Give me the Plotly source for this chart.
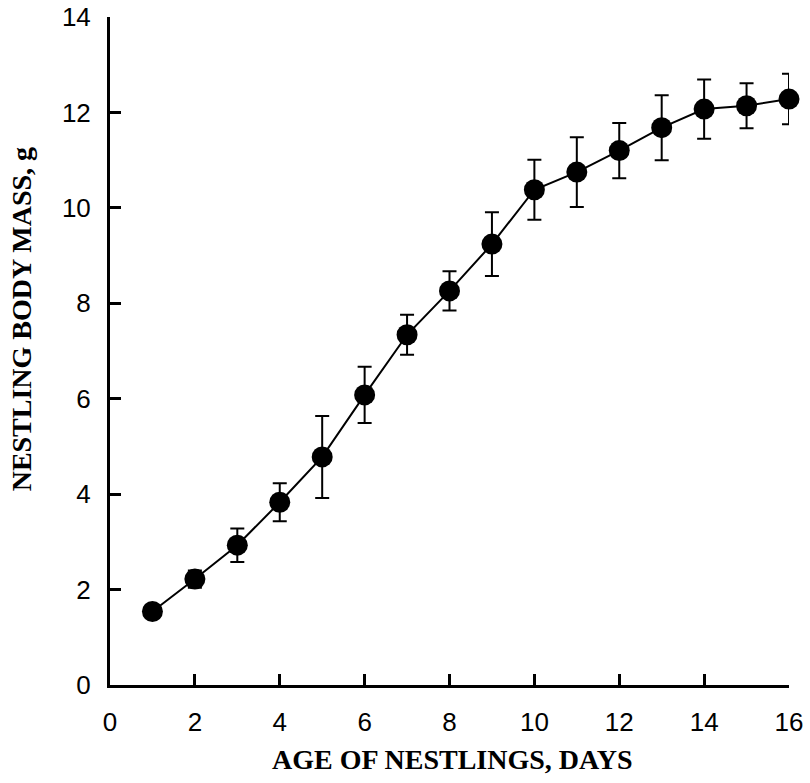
import plotly.graph_objects as go

days = [1, 2, 3, 4, 5, 6, 7, 8, 9, 10, 11, 12, 13, 14, 15, 16]
mass = [1.54, 2.22, 2.93, 3.83, 4.78, 6.08, 7.34, 8.26, 9.24, 10.38, 10.75, 11.2, 11.68, 12.07, 12.14, 12.28]
err = [0.08, 0.18, 0.35, 0.40, 0.86, 0.59, 0.42, 0.41, 0.67, 0.63, 0.73, 0.58, 0.68, 0.62, 0.47, 0.53]

x_ticks = [0, 2, 4, 6, 8, 10, 12, 14, 16]
y_ticks = [0, 2, 4, 6, 8, 10, 12, 14]

x_title = "AGE OF NESTLINGS, DAYS"
y_title = "NESTLING BODY MASS, g"

fig = go.Figure()
fig.add_trace(go.Scatter(
    x=days, y=mass, mode="lines+markers",
    line=dict(color="black", width=2),
    marker=dict(color="black", size=21),
    error_y=dict(type="data", array=err, visible=True, color="black", thickness=2, width=7),
    showlegend=False, cliponaxis=False,
))

fig.update_layout(
    width=810, height=783,
    margin=dict(l=110, r=21, t=17, b=98, autoexpand=False),
    paper_bgcolor="white", plot_bgcolor="white",
    font=dict(family="Liberation Sans, Arial", color="black"),
)
fig.update_xaxes(
    range=[0, 16], tickvals=x_ticks, ticktext=[str(v) for v in x_ticks],
    showgrid=False, zeroline=False, showline=True, linecolor="black", linewidth=3,
    ticks="inside", ticklen=11, tickwidth=3, tickcolor="black",
    tickfont=dict(size=26, family="Liberation Sans, Arial"),
    ticklabelstandoff=12, automargin=False,
)
fig.update_yaxes(
    range=[0, 14], tickvals=y_ticks, ticktext=[str(v) for v in y_ticks],
    showgrid=False, zeroline=False, showline=True, linecolor="black", linewidth=3,
    ticks="inside", ticklen=11, tickwidth=3, tickcolor="black",
    tickfont=dict(size=26, family="Liberation Sans, Arial"),
    ticklabelstandoff=11, automargin=False,
)
fig.add_annotation(
    text="<b>" + x_title + "</b>", xref="paper", yref="paper",
    x=0.503, y=-0.112, xanchor="center", yanchor="middle", showarrow=False,
    font=dict(size=28, family="Liberation Serif, Times New Roman", color="black"),
)
fig.add_annotation(
    text="<b>" + y_title + "</b>", xref="paper", yref="paper",
    x=-0.129, y=0.548, xanchor="center", yanchor="middle", showarrow=False, textangle=-90,
    font=dict(size=28, family="Liberation Serif, Times New Roman", color="black"),
)

fig.write_html("out.html")
